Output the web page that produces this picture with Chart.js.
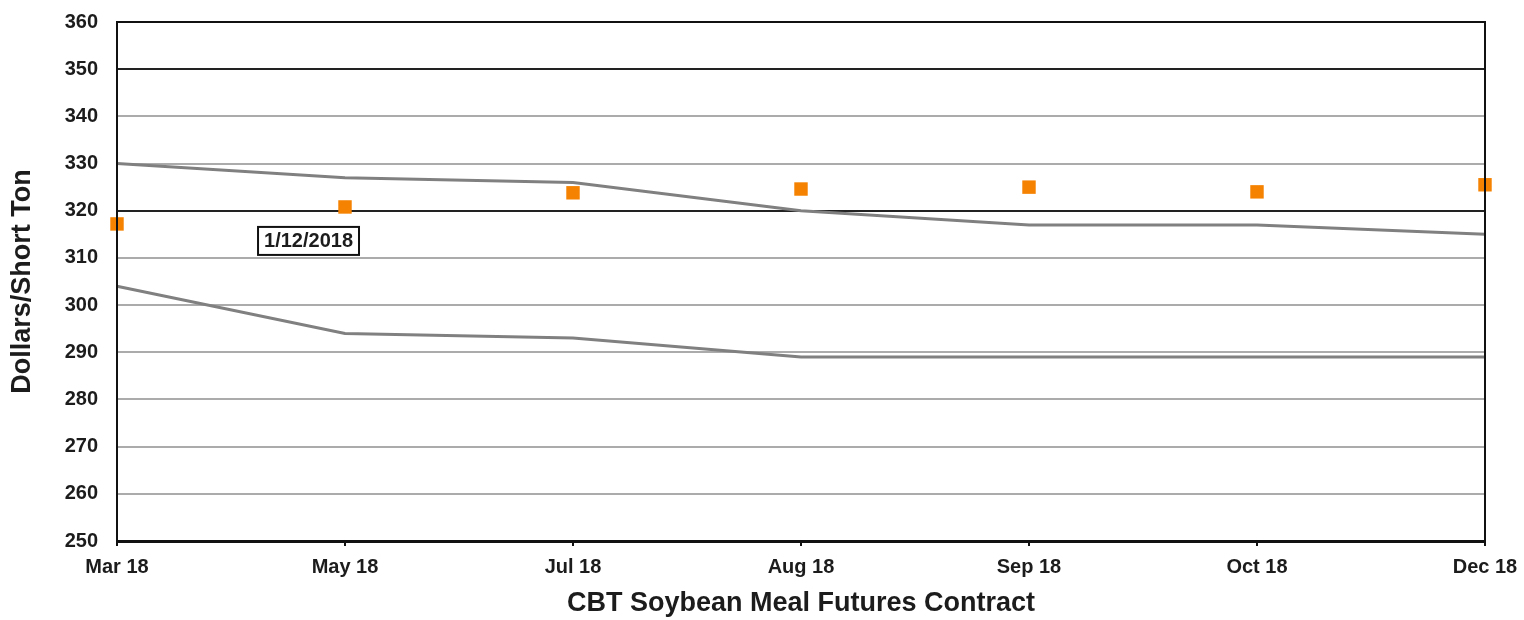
<!DOCTYPE html>
<html>
<head>
<meta charset="utf-8">
<script src="https://cdn.jsdelivr.net/npm/chart.js@4.4.1/dist/chart.umd.min.js"></script>
<style>
  html, body { margin: 0; padding: 0; background: #fff; }
  #wrap { width: 1524px; height: 620px; position: relative; }
</style>
</head>
<body>
<div id="wrap"><canvas id="c" width="1524" height="620"></canvas></div>
<script>
const contracts = ['Mar 18', 'May 18', 'Jul 18', 'Aug 18', 'Sep 18', 'Oct 18', 'Dec 18'];
const rangeHigh = [330, 327, 326, 320, 317, 317, 315];
const rangeLow = [304, 294, 293, 289, 289, 289, 289];
const settle = [317.2, 320.8, 323.8, 324.6, 325.0, 324.0, 325.5];
const dateLabel = '1/12/2018';
const labelAt = { x: 0.84, y: 313.6 };
const darkGridValues = [350, 320];

const font = "'Liberation Sans', Arial, sans-serif";
const ink = '#1c1c1c';

// frame around plot + date box
const frame = {
  id: 'frame',
  afterDatasetsDraw(chart) {
    const { ctx, chartArea: a, scales } = chart;
    ctx.save();
    ctx.strokeStyle = '#111';
    ctx.lineWidth = 2;
    ctx.beginPath();
    ctx.moveTo(a.left, a.bottom);
    ctx.lineTo(a.left, a.top);
    ctx.lineTo(a.right, a.top);
    ctx.lineTo(a.right, a.bottom);
    ctx.stroke();

    const x = scales.x.getPixelForValue(labelAt.x);
    const y = scales.y.getPixelForValue(labelAt.y);
    ctx.font = 'bold 20px ' + font;
    const w = ctx.measureText(dateLabel).width + 12;
    const h = 28;
    ctx.fillStyle = '#fff';
    ctx.fillRect(x - w / 2, y - h / 2, w, h);
    ctx.lineWidth = 2;
    ctx.strokeStyle = '#111';
    ctx.strokeRect(x - w / 2, y - h / 2, w, h);
    ctx.fillStyle = ink;
    ctx.textAlign = 'center';
    ctx.textBaseline = 'middle';
    ctx.fillText(dateLabel, x, y + 1);
    ctx.restore();
  }
};

new Chart(document.getElementById('c'), {
  type: 'line',
  data: {
    labels: contracts,
    datasets: [
      { data: rangeHigh, borderColor: '#808080', borderWidth: 3, pointRadius: 0, tension: 0 },
      { data: rangeLow, borderColor: '#808080', borderWidth: 3, pointRadius: 0, tension: 0 },
      {
        data: settle, showLine: false, pointStyle: 'rect', pointRadius: 9.5,
        backgroundColor: '#f58200', borderColor: '#f58200', borderWidth: 0, clip: false
      },
    ]
  },
  options: {
    responsive: false,
    animation: false,
    layout: { padding: { top: 22, right: 39, left: 0, bottom: 0 } },
    plugins: { legend: { display: false }, tooltip: { enabled: false } },
    scales: {
      x: {
        offset: false,
        afterFit(s) { s.height = 79; s.paddingLeft = 0; s.paddingRight = 0; },
        grid: { display: true, drawOnChartArea: false, drawTicks: true, tickLength: 5, color: '#111', lineWidth: 2 },
        border: { color: '#111', width: 3 },
        ticks: { color: ink, padding: 9, maxRotation: 0, autoSkip: false, font: { family: font, size: 20, weight: 'bold' } },
        title: { display: true, text: 'CBT Soybean Meal Futures Contract', color: ink, padding: { top: 0, bottom: 0 }, font: { family: font, size: 27, weight: 'bold' } }
      },
      y: {
        min: 250, max: 360,
        afterFit(s) { s.width = 117; s.paddingTop = 0; s.paddingBottom = 0; },
        grid: {
          drawTicks: false,
          lineWidth: 2,
          color: c => darkGridValues.includes(c.tick.value) ? '#222' : '#ababab'
        },
        border: { color: '#111', width: 2 },
        ticks: { stepSize: 10, color: ink, padding: 19, font: { family: font, size: 20, weight: 'bold' } },
        title: { display: true, text: 'Dollars/Short Ton', color: ink, padding: { top: 6, bottom: 0 }, font: { family: font, size: 27, weight: 'bold' } }
      }
    }
  },
  plugins: [frame]
});
</script>
</body>
</html>
